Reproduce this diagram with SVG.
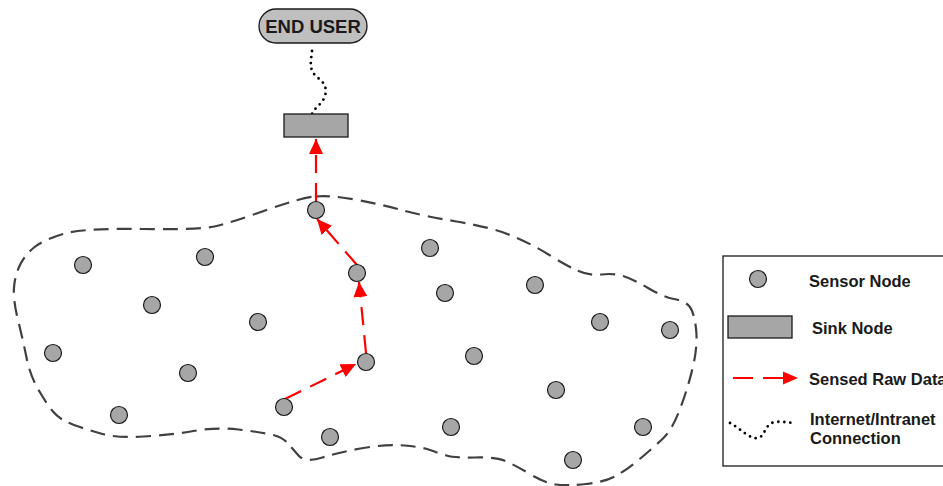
<svg xmlns="http://www.w3.org/2000/svg" width="943" height="486" viewBox="0 0 943 486">
<style>
.sensor{fill:#a6a6a6;stroke:#1a1a1a;stroke-width:1.2}
.sink{fill:#a6a6a6;stroke:#1a1a1a;stroke-width:1.3}
.lbl{font-family:"Liberation Sans",Arial,sans-serif;font-weight:bold;font-size:16.5px;fill:#1a1a1a}
.data{stroke:#ff0000;stroke-width:2.2;fill:none;stroke-dasharray:18 10;marker-end:url(#ah)}
.net{stroke:#000;stroke-width:2.8;fill:none;stroke-dasharray:0 6;stroke-linecap:round}
.field{fill:none;stroke:#404040;stroke-width:2.2;stroke-dasharray:15 8}
</style>
<defs>
<marker id="ah" markerUnits="userSpaceOnUse" markerWidth="16" markerHeight="14" refX="15" refY="7" orient="auto">
<path d="M0,0 L15,7 L0,14 Z" fill="#ff0000"/>
</marker>
</defs>
<rect width="943" height="486" fill="#fff"/>
<path class="field" d="M315,196.5 Q330,195 355,199.5 Q380,204 401.5,210 Q423,216 456.5,221.5 Q490,227 510,235 Q530,243 548.5,254.5 Q567,266 578.5,271 Q590,276 601.5,274.5 Q613,273 623,276 Q633,279 648,288 Q663,297 674,299 Q685,301 689.5,306.5 Q694,312 696,328.5 Q698,345 693,366.5 Q688,388 680,409 Q672,430 663,438.5 Q654,447 641,458 Q628,469 616.5,475.5 Q605,482 586,484 Q567,486 556,484.5 Q545,483 529,473.5 Q513,464 504,460.5 Q495,457 475,457.5 Q455,458 446.5,455.5 Q438,453 430,450 Q422,447 404.5,445.5 Q387,444 363.5,448 Q340,452 322.5,457.5 Q305,463 298.5,455.5 Q292,448 287,442.5 Q282,437 271,434.5 Q260,432 238.5,429.5 Q217,427 193.5,431 Q170,435 143.5,436.5 Q117,438 102.5,434 Q88,430 74,425 Q60,420 53,411.5 Q46,403 38,389 Q30,375 26.5,357.5 Q23,340 18,320 Q13,300 14,287.5 Q15,275 20,265 Q25,255 34,247.5 Q43,240 63,234 Q83,228 141.5,229 Q200,230 216.5,226 Q233,222 266.5,210 Q300,198 315,196.5 Z"/>
<g id="connectors">
<path class="net" d="M312,51 C311,62 308,70 318,78 C330,86 326,98 320,104 C316,108 313,111 312,114"/>
<line class="data" x1="316" y1="201" x2="316" y2="139"/>
<line class="data" x1="357" y1="265" x2="317" y2="219"/>
<line class="data" x1="366" y1="353" x2="359" y2="282"/>
<line class="data" x1="285" y1="399" x2="356" y2="364"/>
</g>
<g id="end-user">
<rect x="259" y="9" width="108" height="34" rx="17" ry="17" fill="#bfbfbf" stroke="#1a1a1a" stroke-width="1.3"/>
<text x="313" y="33" text-anchor="middle" class="lbl" style="font-size:18.5px">END USER</text>
</g>
<g id="sink"><rect class="sink" x="284" y="114" width="64" height="23"/></g>
<g id="sensors">
<circle class="sensor" cx="83" cy="265" r="8.5"/>
<circle class="sensor" cx="205" cy="257" r="8.5"/>
<circle class="sensor" cx="152" cy="305" r="8.5"/>
<circle class="sensor" cx="258" cy="322" r="8.5"/>
<circle class="sensor" cx="53" cy="353" r="8.5"/>
<circle class="sensor" cx="188" cy="373" r="8.5"/>
<circle class="sensor" cx="119" cy="415" r="8.5"/>
<circle class="sensor" cx="284" cy="407" r="8.5"/>
<circle class="sensor" cx="316" cy="210" r="8.5"/>
<circle class="sensor" cx="357" cy="273" r="8.5"/>
<circle class="sensor" cx="366" cy="362" r="8.5"/>
<circle class="sensor" cx="330" cy="437" r="8.5"/>
<circle class="sensor" cx="430" cy="248" r="8.5"/>
<circle class="sensor" cx="445" cy="293" r="8.5"/>
<circle class="sensor" cx="535" cy="285" r="8.5"/>
<circle class="sensor" cx="600" cy="322" r="8.5"/>
<circle class="sensor" cx="670" cy="330" r="8.5"/>
<circle class="sensor" cx="474" cy="356" r="8.5"/>
<circle class="sensor" cx="556" cy="390" r="8.5"/>
<circle class="sensor" cx="451" cy="427" r="8.5"/>
<circle class="sensor" cx="643" cy="427" r="8.5"/>
<circle class="sensor" cx="573" cy="460" r="8.5"/>
</g>
<g id="legend">
<rect x="723" y="256" width="240" height="210" fill="#fff" stroke="#1a1a1a" stroke-width="1.3"/>
<circle class="sensor" cx="758" cy="279" r="8.5"/>
<text class="lbl" x="809" y="287">Sensor Node</text>
<rect class="sink" x="728" y="316" width="64" height="22"/>
<text class="lbl" x="812" y="334">Sink Node</text>
<line x1="733" y1="378" x2="786" y2="378" stroke="#ff0000" stroke-width="2.2" stroke-dasharray="20 10"/>
<path d="M783,371.5 L798,378 L783,384.5 Z" fill="#ff0000"/>
<text class="lbl" x="809" y="385">Sensed Raw Data</text>
<path class="net" d="M730,423 C740,428 750,440 758,438 C766,436 764,424 775,422 C782,421 790,423 795,423"/>
<text class="lbl" x="810" y="425">Internet/Intranet</text>
<text class="lbl" x="810" y="444">Connection</text>
</g>
</svg>
